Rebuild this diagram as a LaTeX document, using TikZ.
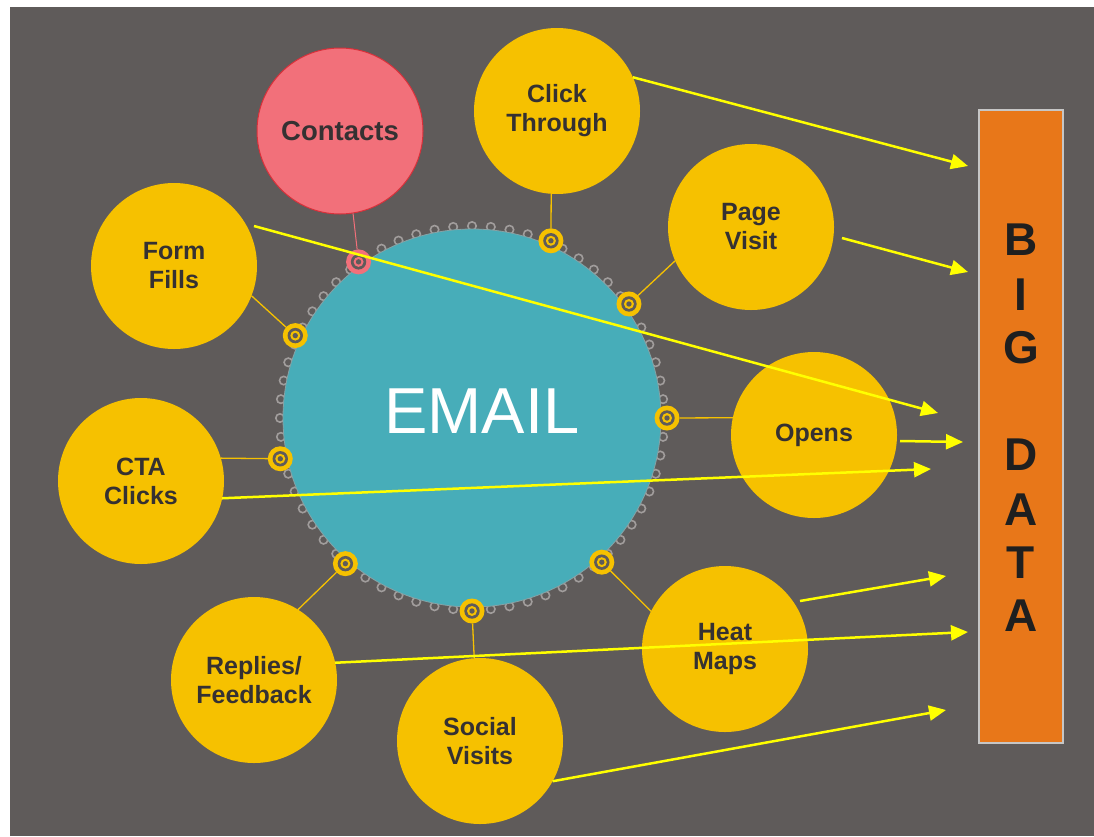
\documentclass[tikz,border=0pt]{standalone}
\usepackage{fontspec}
\setmainfont{Liberation Sans}
\usetikzlibrary{arrows.meta,calc}
\definecolor{bgc}{HTML}{5F5B5A}
\definecolor{cyel}{HTML}{F6C100}
\definecolor{arrowy}{HTML}{FFFF00}
\definecolor{ctext}{HTML}{353132}
\definecolor{cpink}{HTML}{F2707A}
\definecolor{cpinkb}{HTML}{D9303A}
\definecolor{cteal}{HTML}{47ADB9}
\definecolor{corange}{HTML}{E87719}
\definecolor{cgring}{HTML}{A19D9C}
\begin{document}
\begin{tikzpicture}[x=1pt,y=-1pt,
  bubble/.style={circle, fill=cyel, minimum size=166pt, inner sep=0pt, outer sep=0pt,
    font=\bfseries\fontsize{25}{29}\selectfont, text=ctext, align=center},
  yring/.style={circle, fill=#1, minimum size=25pt, inner sep=0pt, outer sep=0pt,
    path picture={
      \fill[bgc] (path picture bounding box.center) circle (7.7pt);
      \fill[#1] (path picture bounding box.center) circle (5pt);
      \fill[bgc] (path picture bounding box.center) circle (2.7pt);}},
  yring/.default=cyel,
  link/.style={draw=cyel, line width=1.3pt},
  bigarrow/.style={draw=arrowy, line width=2.5pt, -{Triangle[length=17pt,width=15pt]}},
  gring/.style={draw=cgring, line width=1.6pt},
  bigletter/.style={font=\bfseries\fontsize{46}{46}\selectfont, text=black!88, inner sep=0pt}
]
\useasboundingbox (0,0) rectangle (1094,836);
\fill[bgc] (10,7) rectangle (1094,836);

% small rings around the email circle
\coordinate (ec) at (472,418);
\foreach \a in {0,5.625,...,355}
  \draw[gring] ($(ec)+(\a:192pt)$) circle (4.2pt);

\node[circle, fill=cteal, draw=cgring!70!cteal, line width=0.8pt, minimum size=378pt, inner sep=0pt] (email) at (ec) {};
\node[font=\fontsize{65}{65}\selectfont, text=white, inner sep=0pt] (emailtext) at (482,411) {EMAIL};

% connector rings on the email circle
\node[yring] (r1) at ($(ec)+(66:194pt)$) {};
\node[yring] (r2) at ($(ec)+(36:194pt)$) {};
\node[yring] (r3) at ($(ec)+(0:195pt)$) {};
\node[yring] (r4) at ($(ec)+(-48:194pt)$) {};
\node[yring] (r5) at ($(ec)+(-90:193pt)$) {};
\node[yring] (r6) at ($(ec)+(-131:193pt)$) {};
\node[yring] (r7) at ($(ec)+(-168:196pt)$) {};
\node[yring] (r8) at ($(ec)+(155:195pt)$) {};
\node[yring=cpink] (r9) at ($(ec)+(126:193pt)$) {};

% bubbles
\node[circle, fill=cpink, draw=cpinkb, line width=1pt, minimum size=166pt, inner sep=0pt,
      font=\bfseries\fontsize{27.5}{30}\selectfont, text=ctext] (contacts) at (340,131) {Contacts};
\node[bubble] (ct) at (557,111) {Click\\Through};
\node[bubble] (pv) at (751,227) {Page\\Visit};
\node[bubble] (ff) at (174,266) {Form\\Fills};
\node[bubble] (op) at (814,435) {Opens};
\node[bubble] (cta) at (141,481) {CTA\\Clicks};
\node[bubble] (rf) at (254,680) {Replies/\\Feedback};
\node[bubble] (sv) at (480,741) {Social\\Visits};
\node[bubble] (hm) at (725,649) {Heat\\Maps};

% links from rings to bubbles
\draw[link] (r1) -- (ct.266);
\draw[link] (r2) -- (pv.204);
\draw[link] (r3) -- (op.168);
\draw[link] (r4) -- (hm.153);
\draw[link] (r5) -- (sv.94);
\draw[link] (r6) -- (rf.58);
\draw[link] (r7) -- (cta.16);
\draw[link] (r8) -- (ff.-21.5);
\draw[draw=cpink, line width=1pt] (r9) -- (contacts.-81);

% big data bar
\node[rectangle, fill=corange, draw=gray!45, line width=1.3pt, minimum width=84pt, minimum height=633pt,
      inner sep=0pt] (bigdata) at (1021,426.5) {};
\node[bigletter] (lB) at (1021,240) {B};
\node[bigletter] (lI) at (1021,295) {I};
\node[bigletter] (lG) at (1021,348) {G};
\node[bigletter] (lD) at (1021,455) {D};
\node[bigletter] (lA1) at (1021,510) {A};
\node[bigletter] (lT) at (1021,563) {T};
\node[bigletter] (lA2) at (1021,616) {A};

% arrows toward big data
\coordinate (e1) at (968,166);
\coordinate (s2) at (842,238);
\coordinate (e2) at (968,272);
\coordinate (s3) at (254,226);
\coordinate (e3) at (938,413);
\coordinate (s4) at (900,441);
\coordinate (e4) at (963,442);
\coordinate (e5) at (931,469);
\coordinate (s6) at (800,601);
\coordinate (e6) at (946,576);
\coordinate (e7) at (968,632);
\coordinate (e8) at (946,710);
\draw[bigarrow] (ct.24) -- (e1);
\draw[bigarrow] (s2) -- (e2);
\draw[bigarrow] (s3) -- (e3);
\draw[bigarrow] (s4) -- (e4);
\draw[bigarrow] (cta.-12) -- (e5);
\draw[bigarrow] (s6) -- (e6);
\draw[bigarrow] (rf.12.5) -- (e7);
\draw[bigarrow] (sv.-29) -- (e8);
\end{tikzpicture}
\end{document}
